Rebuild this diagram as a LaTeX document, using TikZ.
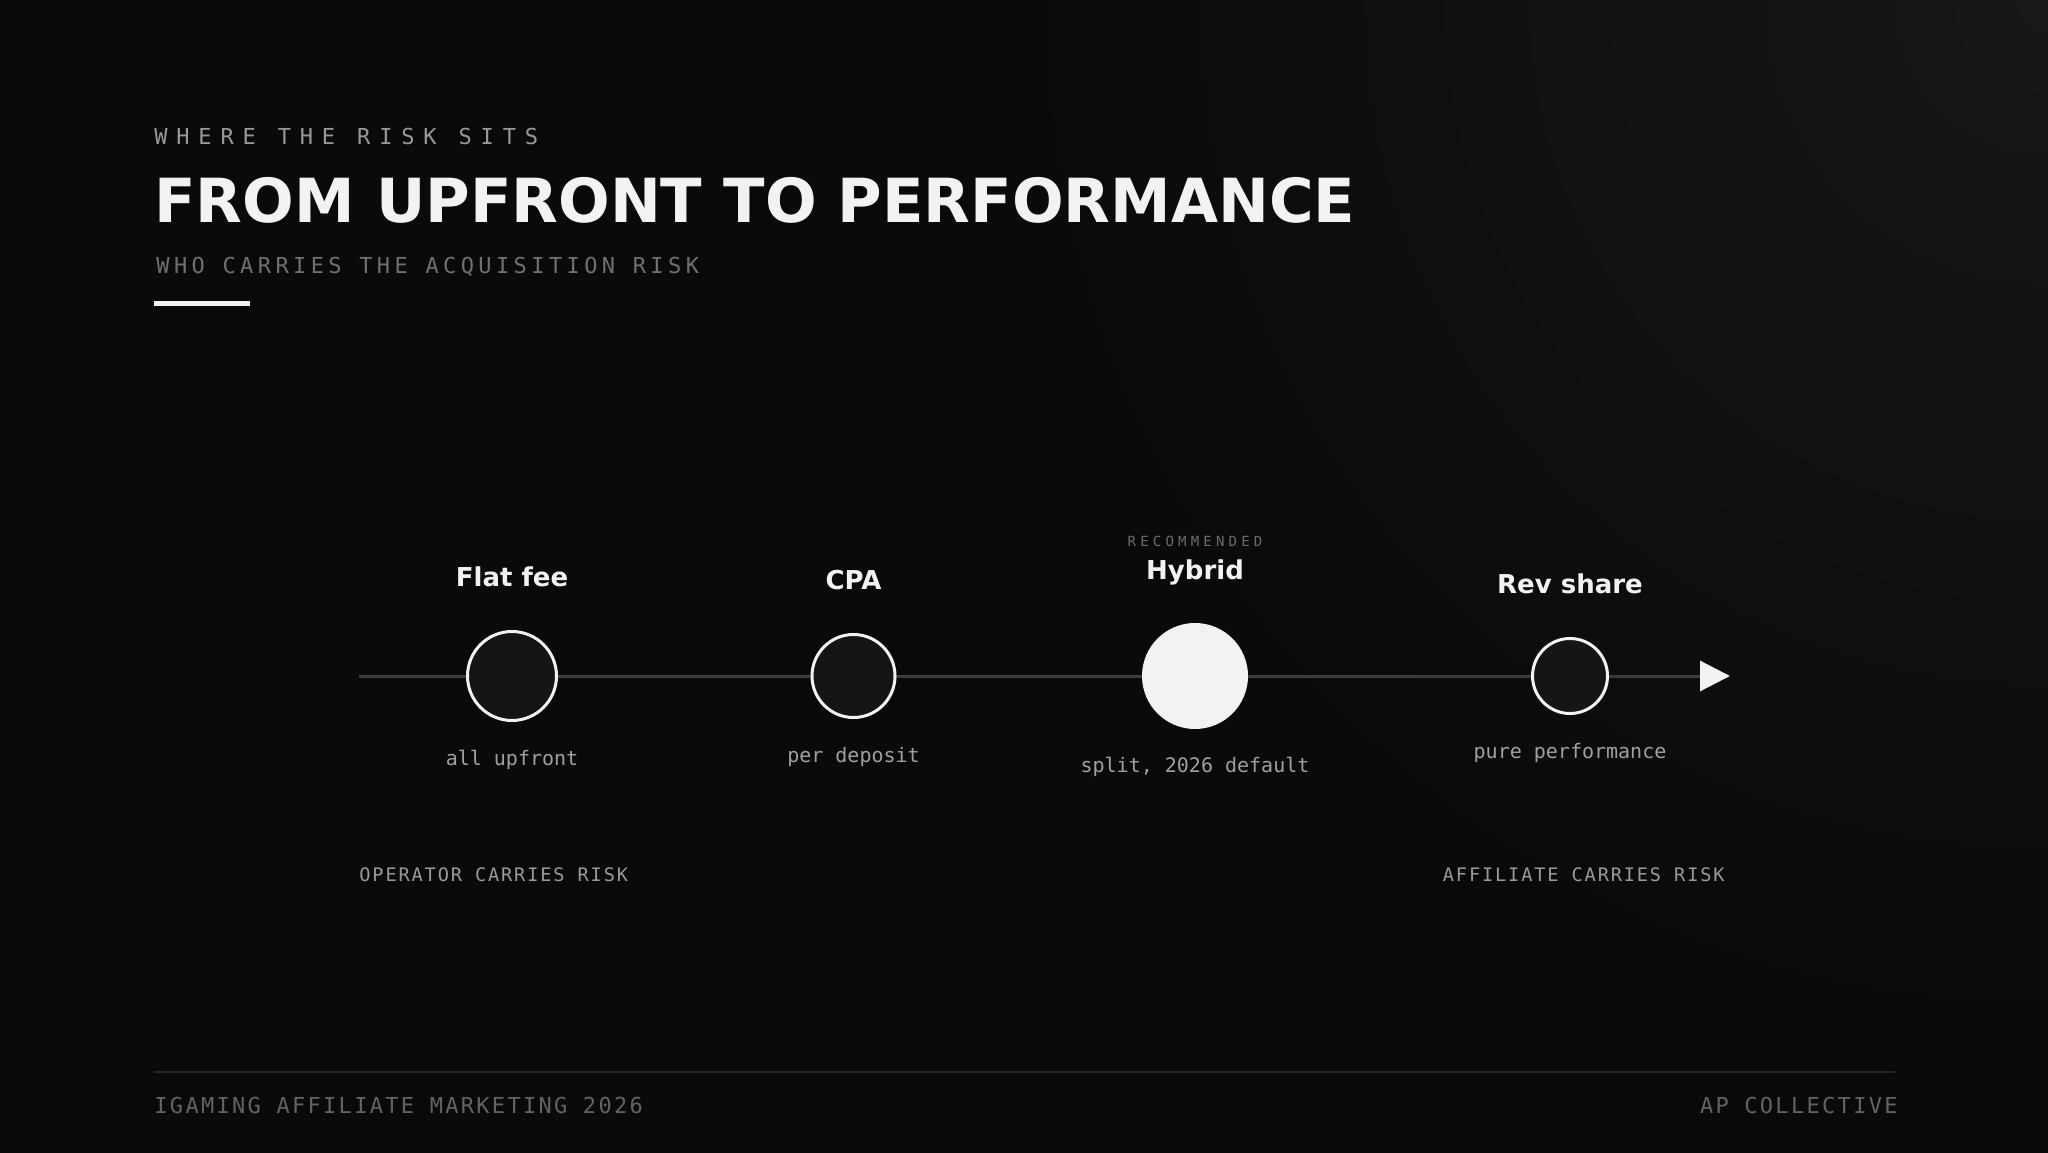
\documentclass[tikz,border=0pt]{standalone}
\usepackage{fontspec}
\setmainfont{DejaVu Sans}
\newfontfamily\kickerfont[LetterSpace=40]{DejaVu Sans Mono}
\newfontfamily\subtitlefont[LetterSpace=20]{DejaVu Sans Mono}
\newfontfamily\riskfont[LetterSpace=10]{DejaVu Sans Mono}
\newfontfamily\footfont[LetterSpace=10.5]{DejaVu Sans Mono}
\newfontfamily\recfont[LetterSpace=30]{DejaVu Sans Mono}
\newfontfamily\notefont{DejaVu Sans Mono}
\usetikzlibrary{arrows.meta, positioning}

\definecolor{bgdark}{HTML}{0A0A0A}
\definecolor{glowin}{HTML}{181818}
\definecolor{glowmid}{HTML}{131313}
\definecolor{glowout}{HTML}{0E0E0E}
\definecolor{titlewhite}{HTML}{F2F2F2}
\definecolor{kickergray}{HTML}{999999}
\definecolor{subgray}{HTML}{707070}
\definecolor{footgray}{HTML}{636363}
\definecolor{rulegray}{HTML}{222222}
\definecolor{linegray}{HTML}{3C3C3C}
\definecolor{dotfill}{HTML}{151515}
\definecolor{notegray}{HTML}{A0A0A0}
\definecolor{riskgray}{HTML}{9A9A9A}
\definecolor{recgray}{HTML}{6C6C6C}

\pgfdeclareradialshading{glow}{\pgfpoint{0bp}{0bp}}{color(0bp)=(glowin); color(6bp)=(glowmid); color(14bp)=(glowout); color(20bp)=(bgdark); color(50bp)=(bgdark)}

\begin{document}
\begin{tikzpicture}[x=1pt, y=1pt,
    stopdot/.style={circle, draw=titlewhite, line width=1.5pt, fill=dotfill, inner sep=0pt},
    stopname/.style={anchor=base, inner sep=0pt, text=titlewhite, font=\bfseries\fontsize{13}{15}\selectfont},
    stopnote/.style={anchor=base, inner sep=0pt, text=notegray, font=\notefont\fontsize{10}{12}\selectfont},
    risk/.style={inner sep=0pt, text=riskgray, font=\riskfont\fontsize{9.3}{11}\selectfont},
    foot/.style={inner sep=0pt, text=footgray, font=\footfont\fontsize{11}{13}\selectfont}]

    \useasboundingbox (0,0) rectangle (1024,576);
    \fill[bgdark] (-2,-2) rectangle (1026,578);
    \begin{scope}
        \clip (-2,-2) rectangle (1026,578);
        \shade[shading=glow] (1024,576) circle (650);
    \end{scope}

    % header
    \node[anchor=base west, inner sep=0pt, text=kickergray, font=\kickerfont\fontsize{11}{13}\selectfont] (kicker) at (77,503.9) {WHERE THE RISK SITS};
    \node[anchor=base west, inner sep=0pt, text=titlewhite, font=\bfseries\fontsize{30.4}{36}\selectfont] (title) at (77,464.5) {FROM UPFRONT TO PERFORMANCE};
    \node[anchor=base west, inner sep=0pt, text=subgray, font=\subtitlefont\fontsize{11}{13}\selectfont] (subtitle) at (78,439.4) {WHO CARRIES THE ACQUISITION RISK};
    \draw[line width=2.5pt, titlewhite] (77,424.25) -- (125,424.25);

    % timeline
    \coordinate (start) at (179.5,238);
    \coordinate (tip) at (865,238);
    \draw[line width=1.5pt, linegray, -{Triangle[length=15pt, width=15pt, color=titlewhite]}] (start) -- (tip);

    \node[stopdot, minimum size=44.5pt] (flat) at (256,238) {};
    \node[stopdot, minimum size=41.5pt] (cpa) at (426.75,238) {};
    \node[stopdot, minimum size=51.5pt, fill=titlewhite] (hybrid) at (597.5,238) {};
    \node[stopdot, minimum size=37.5pt] (rev) at (785,238) {};

    \node[stopname] (flatname) at ([yshift=21.5pt]flat.north) {Flat fee};
    \node[stopname] (cpaname) at ([yshift=21.5pt]cpa.north) {CPA};
    \node[stopname] (hybridname) at ([yshift=21.5pt]hybrid.north) {Hybrid};
    \node[stopname] (revname) at ([yshift=21.5pt]rev.north) {Rev share};
    \node[anchor=base, inner sep=0pt, text=recgray, font=\recfont\fontsize{7}{8}\selectfont] (rec) at ([yshift=16.5pt]hybridname.base) {RECOMMENDED};

    \node[stopnote] (flatnote) at ([yshift=-21.5pt]flat.south) {all upfront};
    \node[stopnote] (cpanote) at ([yshift=-21.5pt]cpa.south) {per deposit};
    \node[stopnote] (hybridnote) at ([yshift=-21.5pt]hybrid.south) {split, 2026 default};
    \node[stopnote] (revnote) at ([yshift=-21.5pt]rev.south) {pure performance};

    \node[risk, anchor=base west] (operator) at (179.5,135.2) {OPERATOR CARRIES RISK};
    \node[risk, anchor=base east] (affiliate) at (862.5,135.2) {AFFILIATE CARRIES RISK};

    % footer
    \draw[line width=1pt, rulegray] (77,40.15) -- (947.5,40.15);
    \node[foot, anchor=base west] (event) at (77,19.5) {IGAMING AFFILIATE MARKETING 2026};
    \node[foot, anchor=base east] (brand) at (949,19.5) {AP COLLECTIVE};
\end{tikzpicture}
\end{document}
